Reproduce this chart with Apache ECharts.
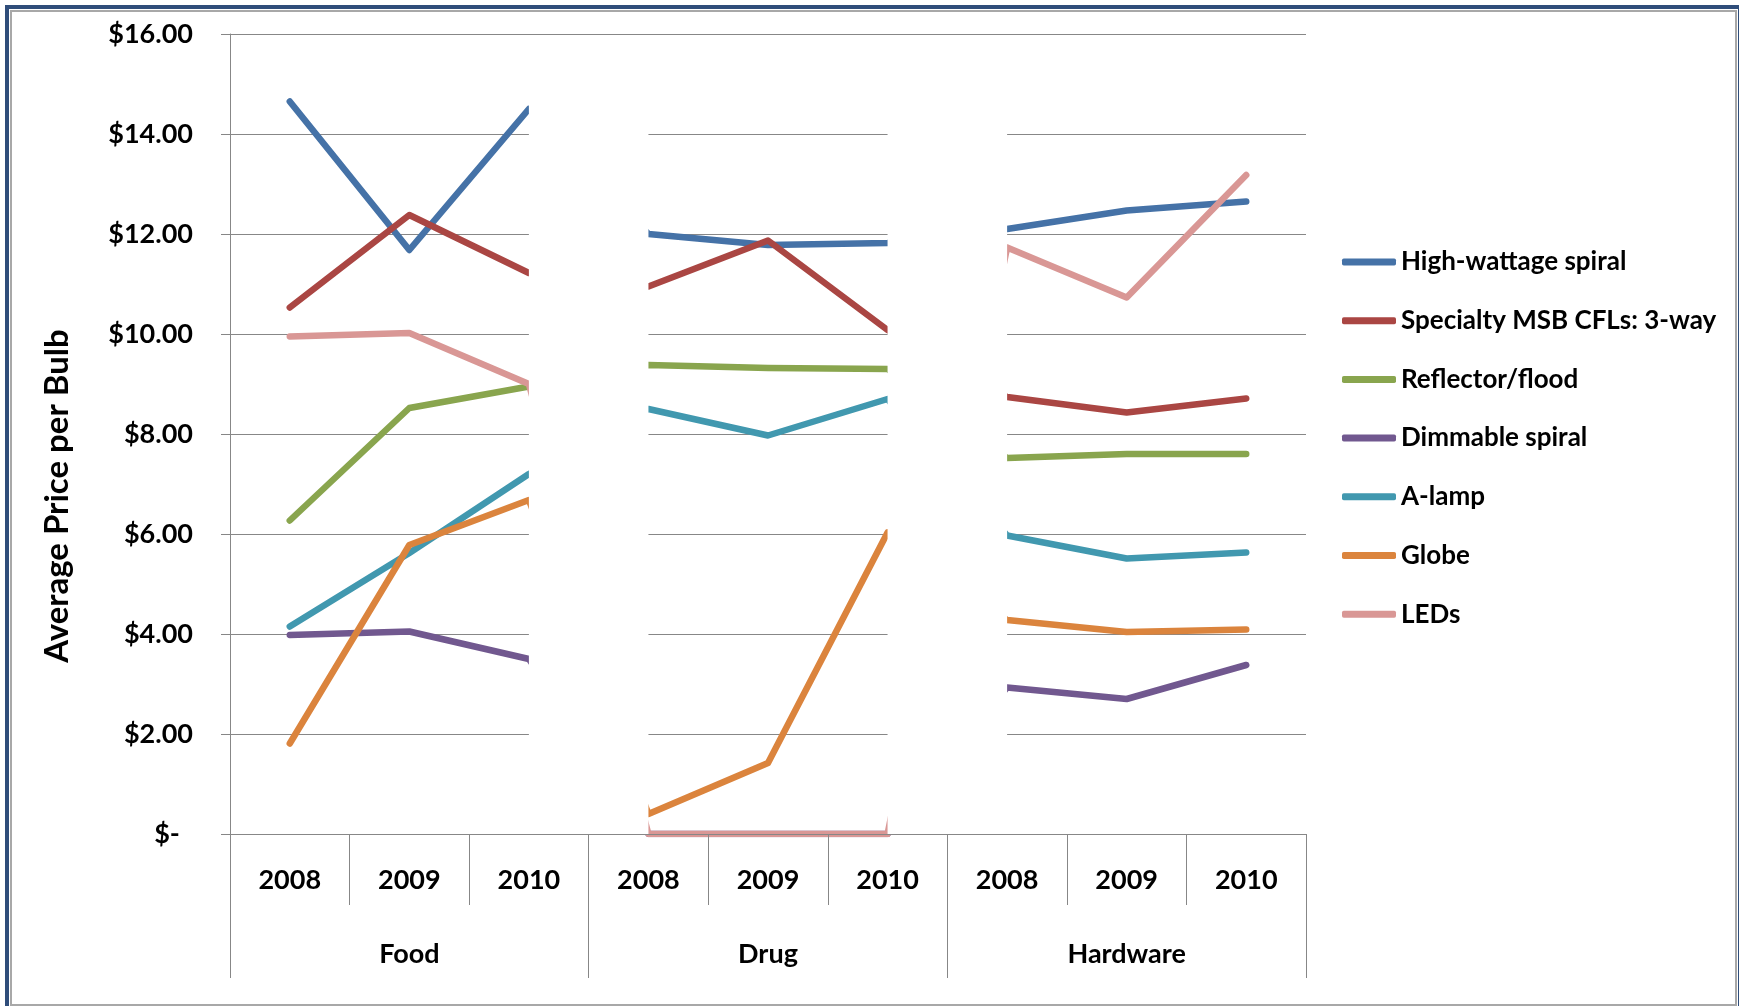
<!DOCTYPE html>
<html>
<head>
<meta charset="utf-8">
<script src="https://cdn.jsdelivr.net/npm/echarts@6/dist/echarts.min.js"></script>
<style>
  html, body { margin: 0; padding: 0; background: #ffffff; }
  #chart { width: 1739px; height: 1006px; }
</style>
</head>
<body>
<div id="chart"></div>
<script>
// Retail channels and years (two-level category axis)
const channels = ['Food', 'Drug', 'Hardware'];
const years = ['2008', '2009', '2010'];

// Bulb types, in legend order
const bulbTypes = [
  'High-wattage spiral',
  'Specialty MSB CFLs: 3-way',
  'Reflector/flood',
  'Dimmable spiral',
  'A-lamp',
  'Globe',
  'LEDs'
];

// Average price per bulb ($), Food 2008-2010, Drug 2008-2010, Hardware 2008-2010
const highWattageSpiral = [14.65, 11.68, 14.50, 12.00, 11.78, 11.82, 12.10, 12.47, 12.65];
const specialty3Way     = [10.53, 12.38, 11.22, 10.95, 11.87, 10.08,  8.74,  8.43,  8.71];
const reflectorFlood    = [ 6.27,  8.52,  8.95,  9.38,  9.32,  9.30,  7.52,  7.60,  7.60];
const dimmableSpiral    = [ 3.98,  4.05,  3.50,  0.00,  0.00,  0.00,  2.93,  2.70,  3.38];
const aLamp             = [ 4.15,  5.62,  7.20,  8.50,  7.97,  8.70,  5.97,  5.51,  5.63];
const globe             = [ 1.81,  5.78,  6.68,  0.40,  1.42,  6.03,  4.28,  4.04,  4.09];
const leds              = [ 9.95, 10.02,  9.00,  0.00,  0.00,  0.00, 11.73, 10.73, 13.18];

const seriesValues = [highWattageSpiral, specialty3Way, reflectorFlood, dimmableSpiral, aLamp, globe, leds];
const seriesColors = ['#4572A7', '#AA4643', '#89A54E', '#71588F', '#4198AF', '#DB843D', '#D99795'];

// Price axis range and step
const priceMin = 0;
const priceMax = 16;
const priceStep = 2;

const FONT = 'Lato, "Open Sans", sans-serif';
const GRID_GREY = '#878787';

// One unique category per channel/year pair
const categories = channels.flatMap(c => years.map(y => c + ' ' + y));

// White panels that separate the channel groups (last year of one group to first year of the next)
const gapAreas = [];
for (let g = 1; g < channels.length; g++) {
  gapAreas.push([
    { xAxis: categories[g * years.length - 1] },
    { xAxis: categories[g * years.length] }
  ]);
}

const lineSeries = bulbTypes.map((name, i) => ({
  name: name,
  type: 'line',
  data: seriesValues[i],
  symbol: 'none',
  color: seriesColors[i],
  lineStyle: { width: 6.5, color: seriesColors[i], cap: 'round', join: 'round' },
  z: 2
}));

const chart = echarts.init(document.getElementById('chart'), null, { renderer: 'canvas' });

chart.setOption({
  animation: false,
  backgroundColor: '#ffffff',
  grid: { left: 230, right: 433, top: 34, bottom: 172, containLabel: false },
  legend: {
    data: bulbTypes,
    orient: 'vertical',
    left: 1337,
    top: 242,
    icon: 'roundRect',
    itemWidth: 54,
    itemHeight: 7,
    itemGap: 28.7,
    textStyle: { fontFamily: FONT, fontWeight: 'bold', fontSize: 26, color: '#000', lineHeight: 30 }
  },
  xAxis: [
    {
      type: 'category',
      data: categories,
      position: 'bottom',
      z: 20,
      axisLine: { show: true, lineStyle: { color: GRID_GREY, width: 1 } },
      axisTick: { show: true, interval: 0, length: 71, lineStyle: { color: GRID_GREY, width: 1 } },
      axisLabel: {
        interval: 0,
        margin: 33,
        formatter: v => v.split(' ')[1],
        fontFamily: FONT, fontWeight: 'bold', fontSize: 27, color: '#000'
      },
      splitLine: { show: false }
    },
    {
      type: 'category',
      data: channels,
      position: 'bottom',
      offset: 0,
      z: 20,
      axisLine: { show: false },
      axisTick: { show: true, interval: 0, length: 144, lineStyle: { color: GRID_GREY, width: 1 } },
      axisLabel: {
        interval: 0,
        margin: 107,
        fontFamily: FONT, fontWeight: 'bold', fontSize: 27, color: '#000'
      },
      splitLine: { show: false }
    }
  ],
  yAxis: {
    type: 'value',
    min: priceMin,
    max: priceMax,
    interval: priceStep,
    axisLine: { show: true, lineStyle: { color: GRID_GREY, width: 1 } },
    axisTick: { show: true, length: 9, lineStyle: { color: GRID_GREY, width: 1 } },
    axisLabel: {
      margin: 37,
      formatter: v => (v === 0 ? '$-  ' : '$' + v.toFixed(2)),
      fontFamily: FONT, fontWeight: 'bold', fontSize: 27, color: '#000'
    },
    splitLine: { show: true, lineStyle: { color: GRID_GREY, width: 1 } }
  },
  graphic: [
    {
      type: 'rect',
      silent: true,
      shape: { x: 7, y: 7, width: 1733, height: 1002 },
      style: { fill: 'none', stroke: '#2F4D7A', lineWidth: 4 }
    },
    {
      type: 'rect',
      silent: true,
      shape: { x: 11, y: 11, width: 1725, height: 994 },
      style: { fill: 'none', stroke: '#A8A8A8', lineWidth: 2 }
    },
    {
      type: 'text',
      silent: true,
      x: 57,
      y: 496,
      rotation: Math.PI / 2,
      style: {
        text: 'Average Price per Bulb',
        font: 'bold 33px ' + FONT,
        fill: '#000',
        align: 'center',
        verticalAlign: 'middle',
        textAlign: 'center',
        textVerticalAlign: 'middle'
      }
    }
  ],
  series: lineSeries.concat([
    {
      name: 'group-gaps',
      type: 'line',
      data: categories.map(() => '-'),
      symbol: 'none',
      z: 10,
      silent: true,
      markArea: {
        silent: true,
        z: 10,
        itemStyle: { color: '#ffffff', borderWidth: 0 },
        label: { show: false },
        data: gapAreas
      }
    },
    {
      name: 'top-rule',
      type: 'line',
      data: categories.map(() => '-'),
      symbol: 'none',
      z: 11,
      silent: true,
      markLine: {
        silent: true,
        z: 12,
        symbol: ['none', 'none'],
        label: { show: false },
        lineStyle: { color: GRID_GREY, width: 1, type: 'solid' },
        data: [{ yAxis: priceMax }]
      }
    }
  ])
});
</script>
</body>
</html>
